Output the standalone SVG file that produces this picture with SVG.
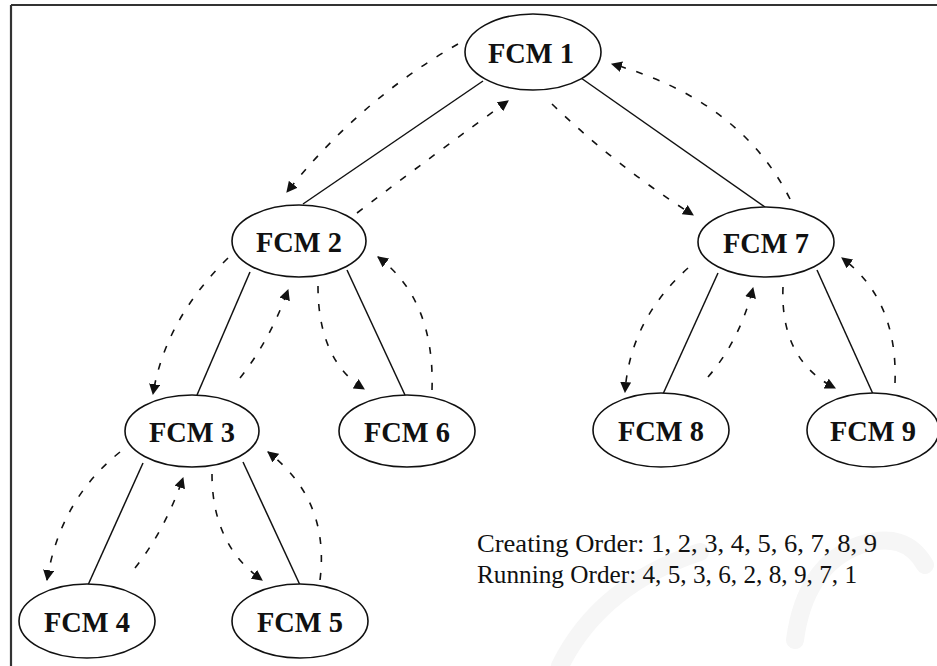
<svg xmlns="http://www.w3.org/2000/svg" width="937" height="666" viewBox="0 0 937 666">
<style>
.node ellipse{fill:#fff;stroke:#111;stroke-width:1.6}
.node text{font-family:"Liberation Serif","Times New Roman",serif;font-weight:bold;font-size:30px;fill:#111;text-anchor:middle}
.edge{stroke:#111;stroke-width:1.5;fill:none}
.flow{stroke:#111;stroke-width:1.6;fill:none;stroke-dasharray:7 11;marker-end:url(#ah)}
.legend{font-family:"Liberation Serif","Times New Roman",serif;font-size:26px;fill:#111}
.wm{fill:none;stroke:#f6f6f6;stroke-width:18;stroke-linecap:round}
</style>
<defs>
<marker id="ah" viewBox="0 0 10 10" refX="9" refY="5" markerWidth="11" markerHeight="11" markerUnits="userSpaceOnUse" orient="auto">
<path d="M0,0 L10,5 L0,10 z" fill="#111"/>
</marker>
</defs>
<rect width="937" height="666" fill="#fff"/>
<g id="watermark">
<path class="wm" d="M560 666 Q600 585 700 552"/>
<path class="wm" d="M795 640 Q805 565 860 545 Q905 530 925 565"/>
</g>
<g id="frame" stroke="#333" stroke-width="2.2" fill="none">
<line x1="11" y1="5" x2="937" y2="5"/>
<line x1="11" y1="5" x2="11" y2="666"/>
</g>
<g id="connectors">
<line class="edge" x1="483" y1="81" x2="303" y2="204"/>
<line class="edge" x1="581" y1="78" x2="765" y2="207"/>
<line class="edge" x1="250" y1="272" x2="197" y2="395"/>
<line class="edge" x1="347" y1="270" x2="405" y2="395"/>
<line class="edge" x1="143" y1="463" x2="88" y2="585"/>
<line class="edge" x1="243" y1="462" x2="300" y2="585"/>
<line class="edge" x1="718" y1="273" x2="663" y2="394"/>
<line class="edge" x1="817" y1="270" x2="873" y2="394"/>
<path class="flow" d="M458 44 Q360 100 287 192"/>
<path class="flow" d="M357 213 Q440 150 508 101"/>
<path class="flow" d="M552 104 Q615 165 693 215"/>
<path class="flow" d="M790 199 Q740 100 612 64"/>
<path class="flow" d="M228 258 Q165 320 153 394"/>
<path class="flow" d="M240 378 Q270 340 288 290"/>
<path class="flow" d="M318 286 Q318 360 364 389"/>
<path class="flow" d="M432 390 Q435 300 378 257"/>
<path class="flow" d="M120 452 Q60 500 47 580"/>
<path class="flow" d="M135 568 Q165 530 183 478"/>
<path class="flow" d="M212 474 Q212 545 262 580"/>
<path class="flow" d="M320 580 Q330 500 268 452"/>
<path class="flow" d="M688 268 Q630 320 625 392"/>
<path class="flow" d="M708 377 Q740 340 753 288"/>
<path class="flow" d="M783 287 Q780 360 835 388"/>
<path class="flow" d="M895 383 Q898 300 842 258"/>
</g>
<g id="fcm1" class="node"><ellipse cx="533" cy="52" rx="68" ry="38"/><text x="531" y="63" textLength="86" lengthAdjust="spacingAndGlyphs">FCM 1</text></g>
<g id="fcm2" class="node"><ellipse cx="299" cy="241" rx="67" ry="36"/><text x="299" y="252" textLength="86" lengthAdjust="spacingAndGlyphs">FCM 2</text></g>
<g id="fcm3" class="node"><ellipse cx="192" cy="431" rx="67" ry="36"/><text x="192" y="442" textLength="86" lengthAdjust="spacingAndGlyphs">FCM 3</text></g>
<g id="fcm4" class="node"><ellipse cx="87" cy="621" rx="68" ry="37"/><text x="87" y="632" textLength="86" lengthAdjust="spacingAndGlyphs">FCM 4</text></g>
<g id="fcm5" class="node"><ellipse cx="300" cy="621" rx="68" ry="37"/><text x="300" y="632" textLength="86" lengthAdjust="spacingAndGlyphs">FCM 5</text></g>
<g id="fcm6" class="node"><ellipse cx="407" cy="431" rx="68" ry="36"/><text x="407" y="442" textLength="86" lengthAdjust="spacingAndGlyphs">FCM 6</text></g>
<g id="fcm7" class="node"><ellipse cx="766" cy="242" rx="68" ry="35"/><text x="766" y="253" textLength="86" lengthAdjust="spacingAndGlyphs">FCM 7</text></g>
<g id="fcm8" class="node"><ellipse cx="661" cy="430" rx="68" ry="37"/><text x="661" y="441" textLength="86" lengthAdjust="spacingAndGlyphs">FCM 8</text></g>
<g id="fcm9" class="node"><ellipse cx="873" cy="430" rx="66" ry="37"/><text x="873" y="441" textLength="86" lengthAdjust="spacingAndGlyphs">FCM 9</text></g>
<g id="legend">
<text class="legend" x="477" y="552" textLength="400" lengthAdjust="spacingAndGlyphs">Creating Order: 1, 2, 3, 4, 5, 6, 7, 8, 9</text>
<text class="legend" x="477" y="583" textLength="380" lengthAdjust="spacingAndGlyphs">Running Order: 4, 5, 3, 6, 2, 8, 9, 7, 1</text>
</g>
</svg>
